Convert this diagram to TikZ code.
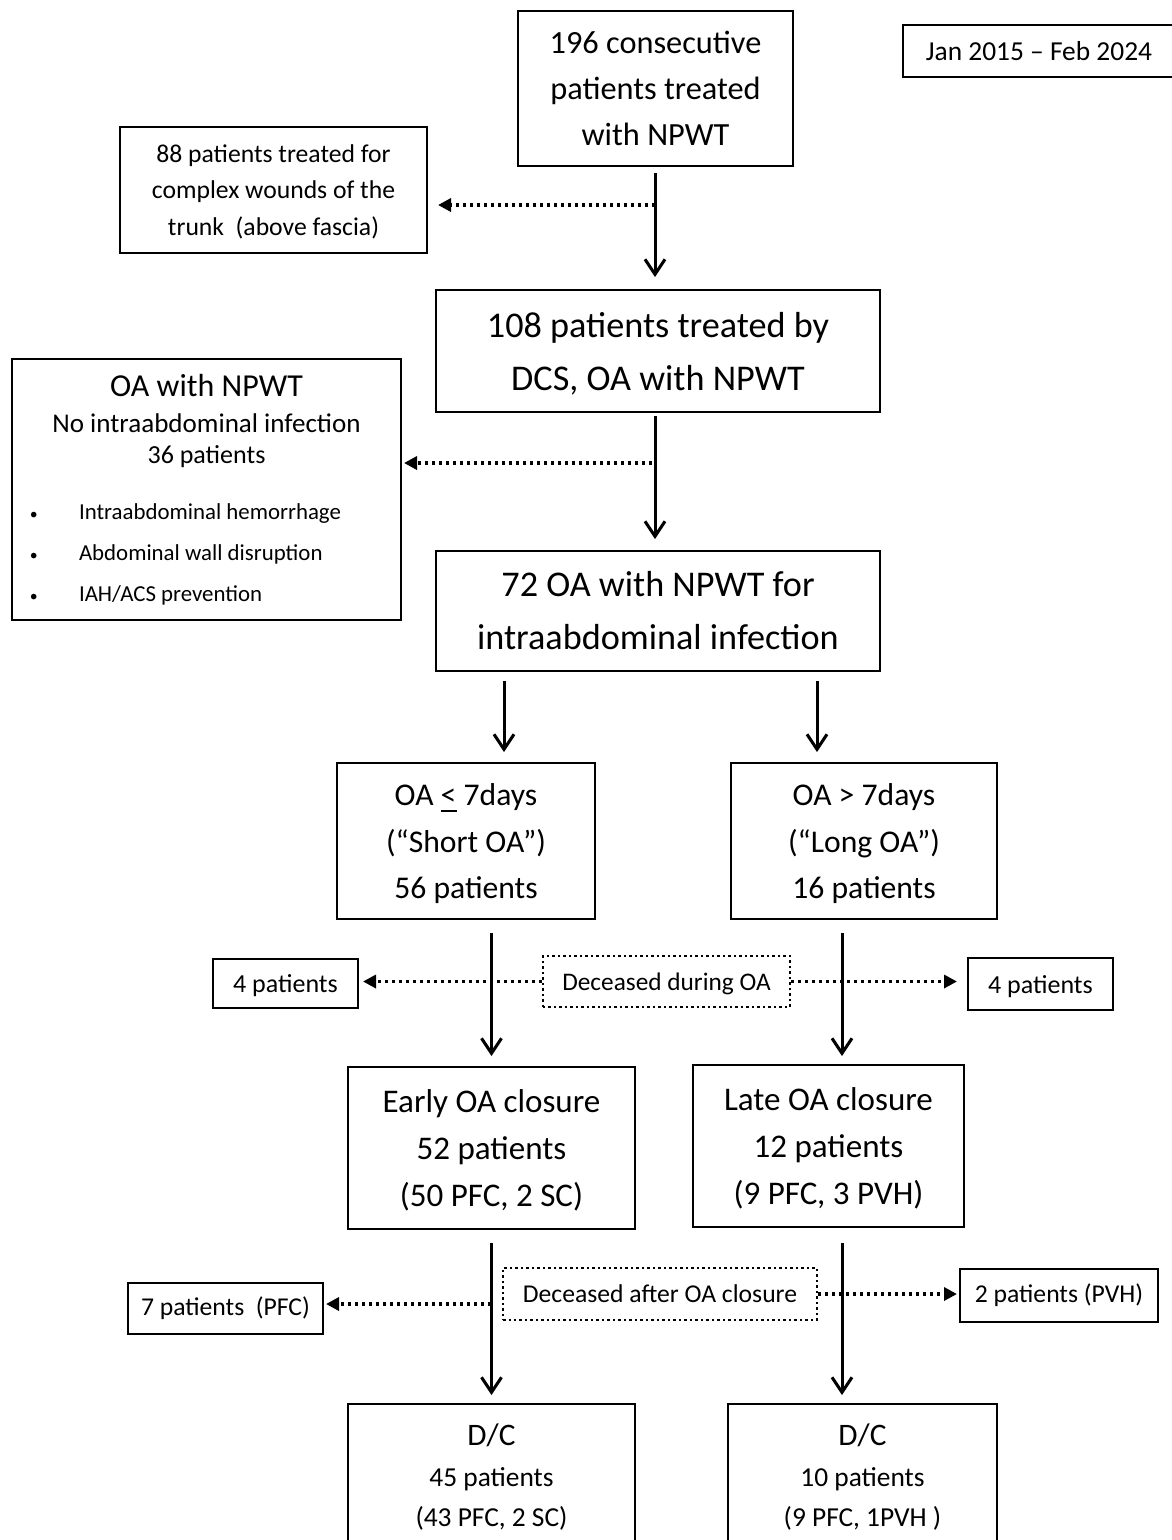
\documentclass[tikz,border=0pt]{standalone}
\usepackage{fontspec}
\setmainfont{Carlito}
\usepackage{tikz}
\usetikzlibrary{arrows.meta}

\tikzset{
  box/.style={draw, line width=0.020cm, align=center, inner sep=0pt},
  dotbox/.style={draw, line width=0.025cm, dash pattern=on 0.025cm off 0.030cm, align=center, inner sep=0pt, text depth=0pt},
  flow/.style={line width=0.030cm, -{Straight Barb[length=0.150000cm,width=0.200000cm]}},
  dotflow/.style={line width=0.035cm, dash pattern=on 0.030cm off 0.040cm, -{Triangle[length=0.130000cm,width=0.130000cm]}},
}
\newcommand{\bulletline}[1]{\noindent\makebox[3.890000cm][l]{\hspace{0.180000cm}\makebox[0.490000cm][l]{\fontsize{4.5}{5}\selectfont •}#1}\par}

\begin{document}
\begin{tikzpicture}
                        \useasboundingbox (0.000000,0.000000) rectangle (11.720000,-15.400000);

                        % Drawing box 196
                        \node [box, minimum width=2.750000cm, minimum height=1.550000cm, font=\fontsize{9.2}{13.1}\selectfont] (total) at (6.555000,-0.885000) {196 consecutive\\patients treated\\with NPWT};%

                        % Drawing box period
                        \node [box, minimum width=2.720000cm, minimum height=0.520000cm, font=\fontsize{7.8}{9}\selectfont] (period) at (10.390000,-0.510000) {Jan 2015 -- Feb 2024};%

                        % Drawing box wounds
                        \node [box, minimum width=3.070000cm, minimum height=1.260000cm, font=\fontsize{7.3}{10.4}\selectfont, text depth=0pt] (wounds) at (2.735000,-1.900000) {88 patients treated for\\complex wounds of the\\trunk~~(above fascia)};%

                        % Drawing box dcs
                        \node [box, minimum width=4.440000cm, minimum height=1.220000cm, font=\fontsize{10.3}{15.1}\selectfont, text depth=0pt] (dcs) at (6.580000,-3.510000) {108 patients treated by\\DCS, OA with NPWT};%

                        % Drawing box noinf
                        \node [box, align=left, minimum width=3.890000cm, minimum height=2.610000cm, text width=3.890000cm] (noinf) at (2.065000,-4.895000) {%
                          \spaceskip=0pt\xspaceskip=0pt
                          \noindent\fontsize{9.1}{10}\selectfont\makebox[3.890000cm][c]{OA with NPWT}\par
                          \noindent\fontsize{7.7}{10.2}\selectfont\makebox[3.890000cm][c]{No intraabdominal infection}\par
                          \noindent\fontsize{7.4}{8.8}\selectfont\makebox[3.890000cm][c]{36 patients}\par
                          \fontsize{6.5}{16.1}\selectfont\bulletline{Intraabdominal hemorrhage}
                          \fontsize{6.5}{11.6}\selectfont\bulletline{Abdominal wall disruption}
                          \bulletline{IAH/ACS prevention}};%

                        % Drawing box inf72
                        \node [box, minimum width=4.440000cm, minimum height=1.200000cm, font=\fontsize{10.3}{15.1}\selectfont] (inf72) at (6.580000,-6.110000) {72 OA with NPWT for\\intraabdominal infection};%

                        % Drawing boxes short and long
                        \node [box, minimum width=2.580000cm, minimum height=1.560000cm, font=\fontsize{9}{13.1}\selectfont, text depth=0pt] (short) at (4.660000,-8.410000) {OA \underline{<} 7days\\(“Short OA”)\\56 patients};%
                        \node [box, minimum width=2.660000cm, minimum height=1.560000cm, font=\fontsize{9}{13.1}\selectfont, text depth=0pt] (long) at (8.640000,-8.410000) {OA > 7days\\(“Long OA”)\\16 patients};%

                        % Drawing box deceased during OA
                        \node [dotbox, minimum width=2.470000cm, minimum height=0.510000cm, font=\fontsize{7.2}{9}\selectfont] (during) at (6.665000,-9.815000) {Deceased during OA};%
                        \node [box, minimum width=1.450000cm, minimum height=0.490000cm, font=\fontsize{7.4}{9}\selectfont, text depth=0pt] (fourL) at (2.855000,-9.835000) {4 patients};%
                        \node [box, minimum width=1.450000cm, minimum height=0.520000cm, font=\fontsize{7.4}{9}\selectfont, text depth=0pt] (fourR) at (10.405000,-9.840000) {4 patients};%

                        % Drawing boxes early and late
                        \node [box, minimum width=2.870000cm, minimum height=1.620000cm, font=\fontsize{9.4}{13.5}\selectfont, text depth=0pt] (early) at (4.915000,-11.480000) {Early OA closure\\52 patients\\(50 PFC, 2 SC)};%
                        \node [box, minimum width=2.710000cm, minimum height=1.620000cm, font=\fontsize{9.4}{13.5}\selectfont, text depth=0pt] (late) at (8.285000,-11.460000) {Late OA closure\\12 patients\\(9 PFC, 3 PVH)};%

                        % Drawing box deceased after OA closure
                        \node [dotbox, minimum width=3.140000cm, minimum height=0.520000cm, font=\fontsize{7.3}{9}\selectfont] (after) at (6.600000,-12.940000) {Deceased after OA closure};%
                        \node [box, minimum width=1.950000cm, minimum height=0.510000cm, font=\fontsize{7.3}{9}\selectfont] (seven) at (2.255000,-13.085000) {7 patients~~(PFC)};%
                        \node [box, minimum width=1.980000cm, minimum height=0.530000cm, font=\fontsize{7.3}{9}\selectfont] (two) at (10.590000,-12.955000) {2 patients (PVH)};%

                        % Drawing boxes D/C
                        \node [box, anchor=north, minimum width=2.870000cm, inner ysep=0.200000cm, text depth=1.000000cm, font=\fontsize{7.8}{11.5}\selectfont] (dcL) at (4.915000,-14.030000) {{\fontsize{8.9}{10}\selectfont D/C}\\45 patients\\(43 PFC, 2 SC)};%
                        \node [box, anchor=north, minimum width=2.690000cm, inner ysep=0.200000cm, text depth=1.000000cm, font=\fontsize{7.8}{11.5}\selectfont] (dcR) at (8.625000,-14.030000) {{\fontsize{8.9}{10}\selectfont D/C}\\10 patients\\(9 PFC, 1PVH )};%

                        % Marking points on the vertical arrows
                        \coordinate (w88) at (6.550000,-2.050000);%
                        \coordinate (w36) at (6.520000,-4.630000);%
                        \coordinate (d7) at (4.910000,-13.040000);%

                        % Drawing arrows down
                        \draw [flow, shorten <=0.060000cm, shorten >=0.120000cm] (total.south -| w88) -- (dcs.north -| w88);%
                        \draw [flow, shorten <=0.030000cm, shorten >=0.110000cm] (dcs.south -| w88) -- (inf72.north -| w88);%
                        \draw [flow, shorten <=0.090000cm, shorten >=0.100000cm] (inf72.south -| 5.040000,0) -- (short.north -| 5.040000,0);%
                        \draw [flow, shorten <=0.090000cm, shorten >=0.100000cm] (inf72.south -| 8.170000,0) -- (long.north -| 8.170000,0);%
                        \draw [flow, shorten <=0.130000cm, shorten >=0.100000cm] (short.south -| early.north) -- (early.north);%
                        \draw [flow, shorten <=0.130000cm, shorten >=0.080000cm] (long.south -| 8.420000,0) -- (late.north -| 8.420000,0);%
                        \draw [flow, shorten <=0.130000cm, shorten >=0.080000cm] (early.south) -- (dcL.north -| early.south);%
                        \draw [flow, shorten <=0.150000cm, shorten >=0.080000cm] (late.south -| 8.420000,0) -- (dcR.north -| 8.420000,0);%

                        % Drawing dotted arrows
                        \draw [dotflow, shorten >=0.100000cm] (w88) -- (w88 -| wounds.east);%
                        \draw [dotflow, shorten >=0.020000cm] (w36) -- (w36 -| noinf.east);%
                        \draw [dotflow, shorten >=0.040000cm] (during.west) -- (during.west -| fourL.east);%
                        \draw [dotflow, shorten >=0.100000cm] (during.east) -- (during.east -| fourR.west);%
                        \draw [dotflow, shorten >=0.020000cm] (d7) -- (d7 -| seven.east);%
                        \draw [dotflow, shorten >=0.020000cm] (after.east) -- (after.east -| two.west);%
                    \end{tikzpicture}
\end{document}
